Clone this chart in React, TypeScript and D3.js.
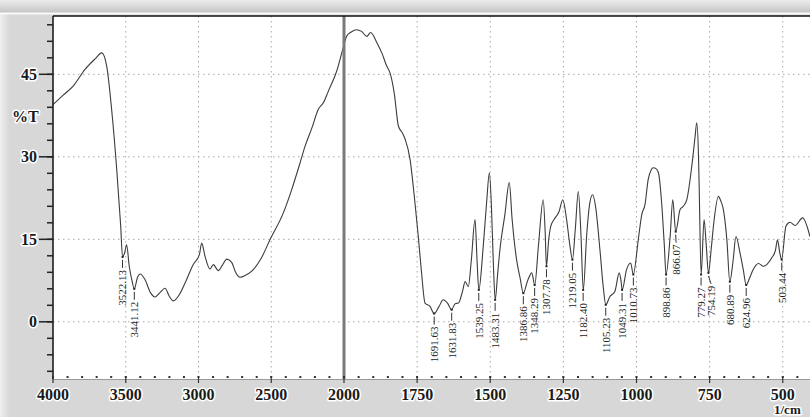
import { scaleLinear, line, curveMonotoneX, range } from "d3";
import { useEffect } from "react";

// spectrum (wavenumber in 1/cm, transmittance in %T)
const waveNumbers = [
  4000, 3930, 3860, 3780, 3711, 3665, 3631, 3597, 3562, 3535, 3522, 3508, 3494, 3476, 3459, 3441,
  3420, 3402, 3368, 3330, 3299, 3265, 3230, 3200, 3173, 3130, 3093, 3036, 2994, 2978, 2955, 2921,
  2898, 2864, 2835, 2806, 2772, 2745, 2715, 2680, 2634, 2570, 2509, 2417, 2360, 2302, 2268, 2220,
  2177, 2140, 2108, 2050, 2009, 1991, 1975, 1957, 1940, 1922, 1909, 1888, 1870, 1854, 1843, 1828,
  1814, 1800, 1791, 1774, 1760, 1746, 1735, 1723, 1706, 1692, 1675, 1661, 1645, 1632, 1620, 1609,
  1595, 1586, 1575, 1565, 1552, 1545, 1539, 1525, 1512, 1503, 1496, 1489, 1483, 1475, 1467, 1450,
  1435, 1425, 1410, 1398, 1387, 1372, 1358, 1348, 1335, 1319, 1312, 1308, 1300, 1293, 1282, 1265,
  1252, 1240, 1228, 1219, 1209, 1199, 1190, 1182, 1170, 1160, 1150, 1140, 1125, 1113, 1105, 1091,
  1074, 1059, 1053, 1049, 1034, 1020, 1011, 994, 982, 971, 960, 950, 943, 935, 925, 914,
  905, 899, 885, 876, 866, 851, 840, 828, 811, 800, 794, 788, 786, 779, 769, 762,
  754, 745, 737, 720, 712, 703, 691, 681, 670, 660, 646, 635, 625, 613, 601, 583,
  566, 538, 525, 518, 510, 504, 489, 475, 458, 432, 407,
];
const transmittance = [
  39.5, 41.2, 42.9, 45.9, 47.8, 48.9, 46.5, 38.6, 27.7, 17.5, 11.8, 12.5, 14.0, 10.1, 7.7, 6.0,
  8.0, 8.7, 7.7, 5.3, 4.5, 5.3, 6.1, 4.6, 3.8, 5.0, 7.0, 10.4, 12.2, 14.3, 11.9, 9.6,
  10.4, 9.3, 10.3, 11.4, 10.8, 9.0, 8.1, 8.4, 9.2, 11.5, 14.9, 19.8, 24.0, 28.9, 31.9, 35.3,
  38.6, 39.9, 41.9, 45.6, 49.5, 51.9, 52.7, 53.1, 52.8, 51.9, 52.6, 50.8, 48.8, 46.5, 45.3, 41.5,
  35.6, 34.3, 33.2, 29.5, 23.0, 15.5, 9.0, 3.4, 2.8, 1.5, 2.8, 4.0, 3.3, 2.2, 3.3, 3.4,
  5.5, 7.3, 6.4, 11.0, 18.6, 11.0, 5.8, 13.0, 22.0, 27.1, 21.0, 10.0, 4.0, 8.5, 13.1, 19.5,
  25.3, 18.5, 11.3, 8.0, 5.2, 7.5, 8.9, 6.7, 14.0, 22.2, 16.0, 10.1, 15.0, 17.4, 18.6, 20.0,
  22.2, 19.0, 14.0, 11.3, 17.0, 23.7, 16.0, 5.8, 16.0, 21.5, 23.1, 21.0, 13.1, 6.0, 3.1, 4.6,
  5.5, 8.9, 7.5, 5.8, 9.5, 10.7, 8.6, 14.9, 19.5, 21.3, 25.9, 27.6, 28.0, 27.9, 27.1, 21.6,
  14.0, 8.6, 15.5, 22.2, 16.4, 20.4, 21.0, 22.2, 28.3, 33.5, 36.2, 30.0, 25.3, 8.6, 18.6, 14.3,
  8.9, 13.0, 17.4, 22.8, 22.0, 20.4, 14.9, 7.3, 11.0, 15.5, 12.5, 9.5, 6.7, 8.0, 9.5, 10.6,
  10.1, 11.6, 13.0, 14.9, 12.5, 11.3, 17.4, 18.1, 17.5, 18.9, 15.5,
];

const peakWaveNumbers = [
  3522.13, 3441.12, 1691.63, 1631.83, 1539.25, 1483.31, 1386.86, 1348.29, 1307.78, 1219.05, 1182.4,
  1105.23, 1049.31, 1010.73, 898.86, 866.07, 779.27, 754.19, 680.89, 624.96, 503.44,
];
const peakTransmittance = [
  11.8, 6.0, 1.5, 2.2, 5.8, 4.0, 5.2, 6.7, 10.1, 11.3, 5.8, 3.1, 5.8, 8.6, 8.6, 16.4, 8.6, 8.9, 7.3,
  6.7, 11.3,
];
const peakLabels = [
  "3522.13", "3441.12", "1691.63", "1631.83", "1539.25", "1483.31", "1386.86", "1348.29", "1307.78",
  "1219.05", "1182.40", "1105.23", "1049.31", "1010.73", "898.86", "866.07", "779.27", "754.19",
  "680.89", "624.96", "503.44",
];

const xMajorTicks = [4000, 3500, 3000, 2500, 2000, 1750, 1500, 1250, 1000, 750, 500];
const xGridTicks = [3500, 3000, 2500, 1750, 1500, 1250, 1000, 750, 500];
const yMajorTicks = [0, 15, 30, 45];

const W = 810;
const H = 417;
const left = 53;
const top = 16;
const bottom = 379;
const split = 344;
const right = 812;

const serif = "'Liberation Serif', 'Times New Roman', serif";

const App = () => {
  useEffect(() => {
    document.body.style.margin = "0";
  }, []);

  // the x axis is broken at 2000: the lower range is drawn at twice the scale
  const x = scaleLinear().domain([4000, 2000, 400]).range([left, split, right]);
  const y = scaleLinear().domain([-10.4, 55.6]).range([bottom, top]);

  const pts = waveNumbers.map((w, i) => [w, transmittance[i]]);
  const path = line()
    .x(d => x(d[0]))
    .y(d => y(d[1]))
    .curve(curveMonotoneX)(pts);

  // minor ticks: 100 per step left of 2000, 50 per step right of it, 3 %T on y
  const xMinor = [...range(4000, 2000, -100), ...range(2000, 400, -50)];
  const yMinor = range(-9, 55, 3);

  // keep neighbouring peak labels from sitting on top of each other
  const labelX: number[] = [];
  peakWaveNumbers.forEach((w, i) => {
    let lx = x(w);
    if (i > 0 && lx - labelX[i - 1] < 10) lx = labelX[i - 1] + 10;
    labelX.push(lx);
  });

  const halo = {
    stroke: "#fff",
    strokeWidth: 3,
    paintOrder: "stroke",
    strokeLinejoin: "round",
  } as const;

  return (
    <svg width={W} height={H} style={{ display: "block", position: "absolute", left: 0, top: 0 }}>
      <defs>
        <linearGradient id="topBand" x1="0" y1="0" x2="0" y2="1">
          <stop offset="0" stopColor="#ececec" />
          <stop offset="1" stopColor="#c4c4c4" />
        </linearGradient>
        <linearGradient id="leftShade" x1="0" y1="0" x2="1" y2="0">
          <stop offset="0" stopColor="#f0f0f0" />
          <stop offset="1" stopColor="#d6d6d6" />
        </linearGradient>
      </defs>

      {/* window frame around the plot */}
      <rect x={0} y={0} width={W} height={H} fill="#d7d7d7" />
      <rect x={0} y={0} width={10} height={H} fill="url(#leftShade)" />
      <rect x={0} y={0} width={W} height={13} fill="url(#topBand)" />
      <line x1={0} x2={W} y1={13.5} y2={13.5} stroke="#fafafa" strokeWidth={2} />

      {/* plot area */}
      <rect x={left} y={top} width={right - left} height={bottom - top} fill="#fff" />

      {/* dotted grid */}
      <g stroke="#a8a8a8" strokeWidth={1} strokeDasharray="1.5,3.5">
        {xGridTicks.map(t => (
          <line key={"gx" + t} x1={x(t)} x2={x(t)} y1={top} y2={bottom} />
        ))}
        {yMajorTicks.map(t => (
          <line key={"gy" + t} x1={left} x2={right} y1={y(t)} y2={y(t)} />
        ))}
      </g>

      {/* spectrum */}
      <path d={path ?? ""} fill="none" stroke="#3c3c3c" strokeWidth={1.1} />

      {/* peak annotations */}
      {peakWaveNumbers.map((w, i) => {
        const px = x(w);
        const py = y(peakTransmittance[i]);
        const lx = labelX[i];
        return (
          <g key={"pk" + i}>
            <rect x={px - 1} y={py - 1} width={2} height={2} fill="#222" />
            <line x1={px} x2={lx} y1={py + 3} y2={py + 11} stroke="#333" strokeWidth={1} />
            <text
              transform={`translate(${lx},${py + 13}) rotate(-90)`}
              textAnchor="end"
              dy="0.35em"
              fontFamily={serif}
              fontSize={11}
              fill="#222"
            >
              {peakLabels[i]}
            </text>
          </g>
        );
      })}

      {/* break line at 2000 */}
      <line x1={split} x2={split} y1={top} y2={bottom} stroke="#7a7a7a" strokeWidth={3} />

      {/* frame lines */}
      <line x1={left} x2={right} y1={top} y2={top} stroke="#111" strokeWidth={1.5} />
      <line x1={left} x2={left} y1={top} y2={bottom} stroke="#111" strokeWidth={1.5} />
      <line x1={left} x2={right} y1={bottom + 0.5} y2={bottom + 0.5} stroke="#9a9a9a" strokeWidth={1} />

      {/* y axis */}
      <g stroke="#222" strokeWidth={1.5}>
        {yMinor.map(t => (
          <line key={"ym" + t} x1={left - 6} x2={left} y1={y(t)} y2={y(t)} />
        ))}
        {yMajorTicks.map(t => (
          <line key={"yM" + t} x1={left - 14} x2={left} y1={y(t)} y2={y(t)} />
        ))}
      </g>
      {yMajorTicks.map(t => (
        <text
          key={"yl" + t}
          x={37}
          y={y(t)}
          dy="0.35em"
          textAnchor="end"
          fontFamily={serif}
          fontSize={16}
          fontWeight="bold"
          fill="#1a1a1a"
          style={halo}
        >
          {t}
        </text>
      ))}
      <text x={12} y={122} fontFamily={serif} fontSize={16} fontWeight="bold" fill="#1a1a1a" style={halo}>
        %T
      </text>

      {/* x axis */}
      <g fill="#333">
        {xMinor.map(t => (
          <rect key={"xm" + t} x={x(t) - 1} y={bottom - 3} width={2} height={2} />
        ))}
      </g>
      <g stroke="#333" strokeWidth={1.2}>
        {xMajorTicks.map(t => (
          <line key={"xM" + t} x1={x(t)} x2={x(t)} y1={bottom - 3} y2={bottom + 4} />
        ))}
      </g>
      {xMajorTicks.map(t => (
        <text
          key={"xl" + t}
          x={x(t)}
          y={400}
          textAnchor="middle"
          fontFamily={serif}
          fontSize={16}
          fontWeight="bold"
          fill="#1a1a1a"
          style={halo}
        >
          {t}
        </text>
      ))}
      <text x={774} y={414} fontFamily={serif} fontSize={13} fontWeight="bold" fill="#1a1a1a" style={halo}>
        1/cm
      </text>
    </svg>
  );
};

export default App;
